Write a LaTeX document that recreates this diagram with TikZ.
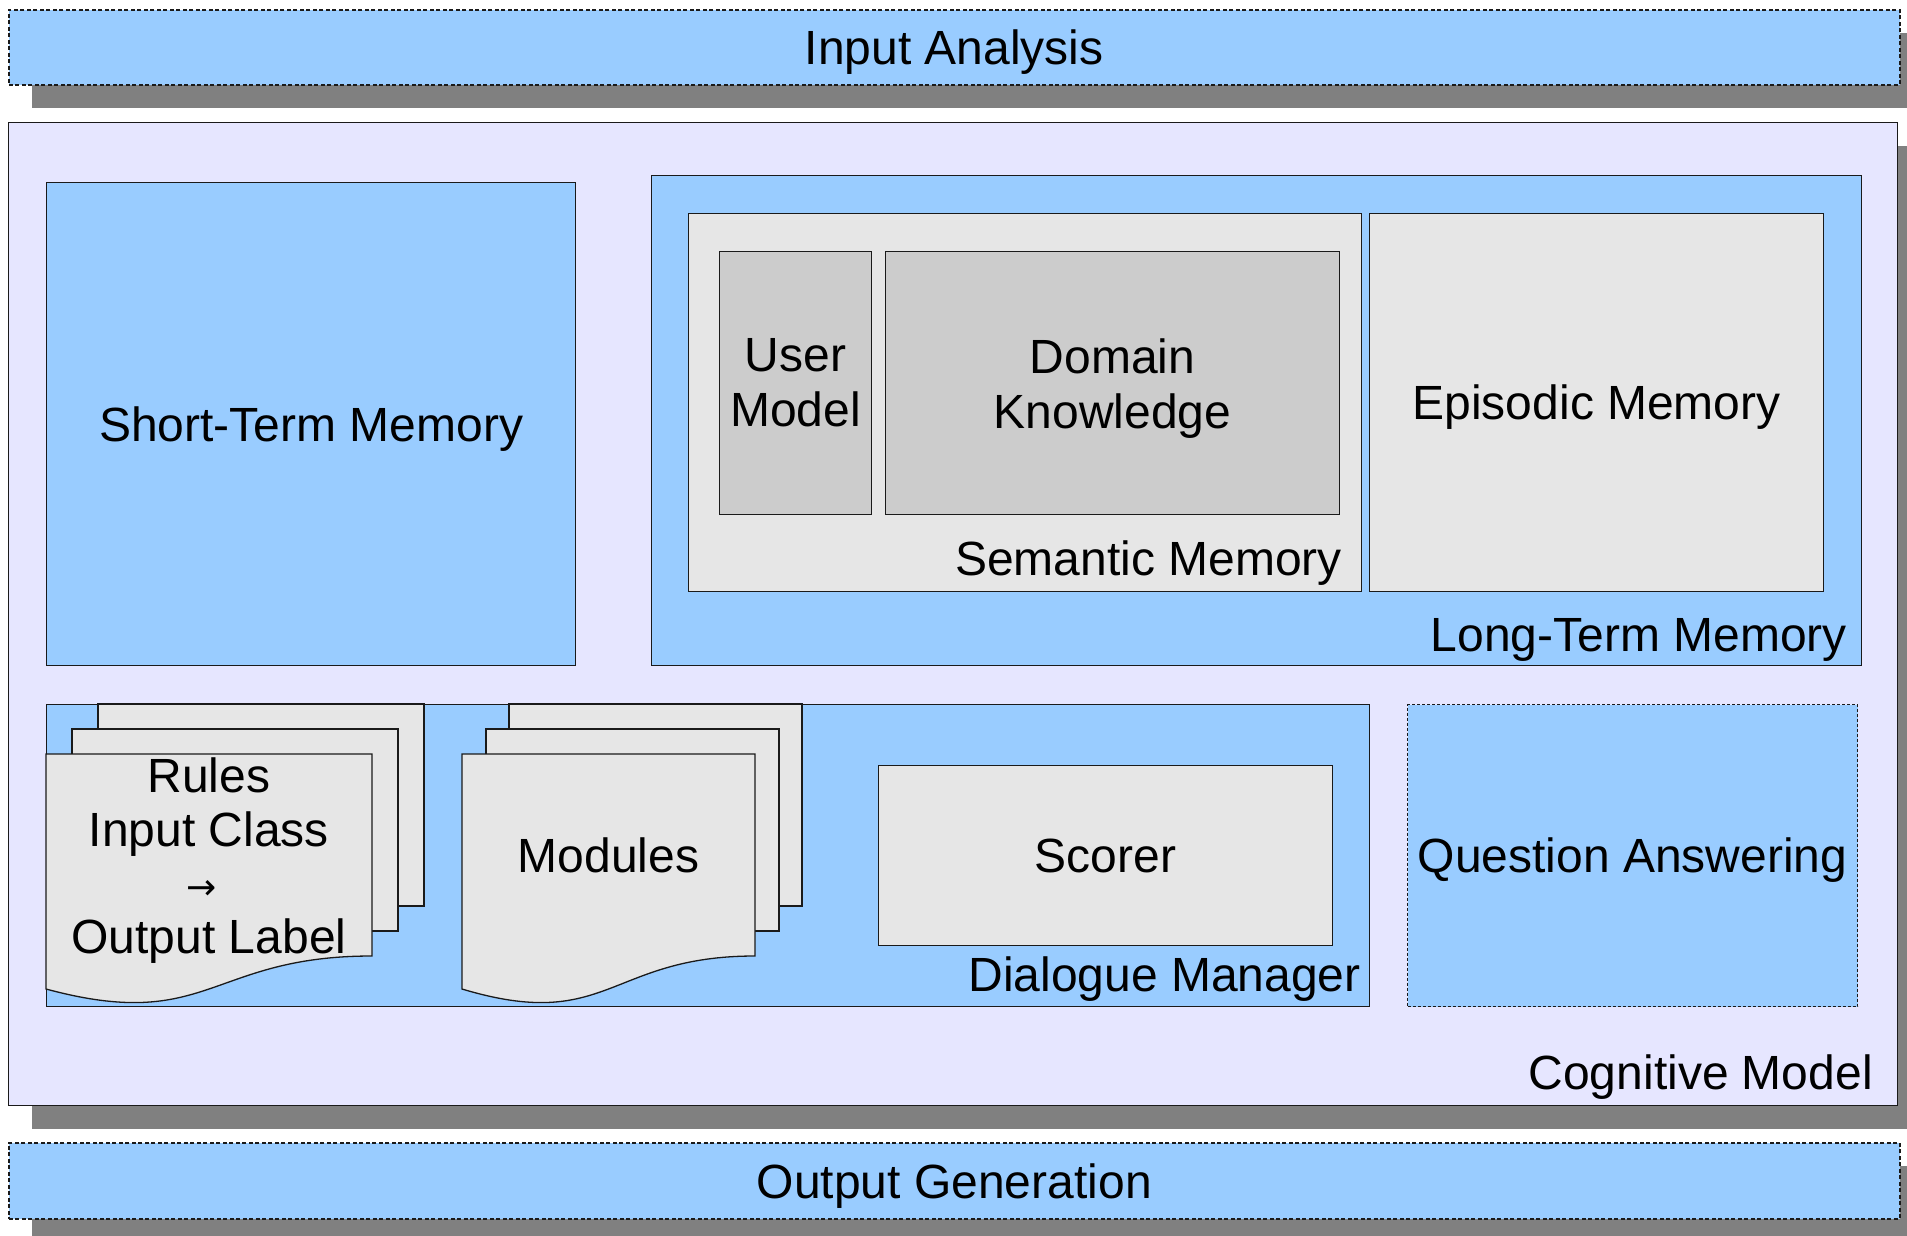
\documentclass[tikz,border=0pt]{standalone}
\usepackage{fontspec}
\setmainfont{Liberation Sans}
\newfontfamily\arrowfont{DejaVu Sans}
\usetikzlibrary{shadows}
\definecolor{barblue}{HTML}{99CCFF}
\definecolor{lav}{HTML}{E6E6FF}
\definecolor{lightg}{HTML}{E6E6E6}
\definecolor{midg}{HTML}{CCCCCC}
\definecolor{shadowc}{HTML}{808080}
\definecolor{linec}{HTML}{1A1A1A}
\begin{document}
\begin{tikzpicture}[x=1pt,y=-1pt,
  lbl/.style={font=\fontsize{48}{55}\selectfont, inner sep=0pt, text=black},
  box/.style={lbl, draw=linec, line width=1.3pt, anchor=north west},
  oneline/.style={text height=34.5pt, text depth=0pt},
  fdash/.style={line width=1.6pt, dash pattern=on 4pt off 2.5pt},
  qdash/.style={line width=1.2pt, dash pattern=on 3pt off 2pt},
  shadowed/.style={drop shadow={shadow xshift=23pt, shadow yshift=-23pt, fill=shadowc, opacity=1, draw=none}},
  doc/.style={draw=linec, line width=1.3pt, fill=lightg, line join=miter}]
\clip (0,0) rectangle (1907,1236);
\fill[white] (0,0) rectangle (1907,1236);

% top and bottom bars
\node[box, oneline, fill=barblue, fdash, shadowed, minimum width=1891pt, minimum height=75pt] (input) at (8,9) {Input Analysis};
\node[box, fill=lav, shadowed, minimum width=1889pt, minimum height=983pt] (cog) at (8,122) {};
\node[lbl, anchor=base east] (coglbl) at (1873,1089) {Cognitive Model};
\node[box, oneline, fill=barblue, fdash, shadowed, minimum width=1891pt, minimum height=76pt] (output) at (8,1142) {Output Generation};

% short-term memory
\node[box, oneline, fill=barblue, minimum width=529pt, minimum height=483pt] (stm) at (46,182) {Short-Term Memory};

% long-term memory
\node[box, fill=barblue, minimum width=1210pt, minimum height=490pt] (ltm) at (651,175) {};
\node[lbl, anchor=base east] (ltmlbl) at (1847,651) {Long-Term Memory};
\node[box, fill=lightg, minimum width=673pt, minimum height=378pt] (sem) at (688,213) {};
\node[lbl, anchor=base east] (semlbl) at (1342,575) {Semantic Memory};
\node[box, fill=midg, align=center, minimum width=152pt, minimum height=263pt] (user) at (719,251) {User\\Model};
\node[box, fill=midg, align=center, text depth=0pt, minimum width=454pt, minimum height=263pt] (domain) at (885,251) {Domain\\Knowledge};
\node[box, oneline, fill=lightg, minimum width=454pt, minimum height=378pt] (epi) at (1369,213) {Episodic Memory};

% dialogue manager
\node[box, fill=barblue, minimum width=1323pt, minimum height=302pt] (dm) at (46,704) {};
\node[lbl, anchor=base east] (dmlbl) at (1361,991) {Dialogue Manager};

% rules stack
\draw[doc] (98,704) rectangle (424,906);
\draw[doc] (72,729) rectangle (398,931);
\draw[doc] (46,754) -- (372,754) -- (372,956) .. controls (209,956) and (209,1033) .. (46,989) -- cycle;
\node[lbl, anchor=north, align=center, font=\fontsize{48}{53.5}\selectfont] (rules) at (209,757.7)
  {Rules\\Input Class\\\hspace*{-14pt}{\arrowfont\fontsize{36}{53.5}\selectfont →}\\Output Label};

% modules stack
\draw[doc] (509,704) rectangle (802,906);
\draw[doc] (486,729) rectangle (779,931);
\draw[doc] (462,754) -- (755,754) -- (755,956) .. controls (608.5,956) and (608.5,1033) .. (462,989) -- cycle;
\node[lbl, oneline] (modules) at (608.5,855) {Modules};

% scorer
\node[box, oneline, fill=lightg, minimum width=454pt, minimum height=180pt] (scorer) at (878,765) {Scorer};

% question answering
\node[box, oneline, fill=barblue, qdash, minimum width=450pt, minimum height=302pt] (qa) at (1407,704) {Question Answering};
\end{tikzpicture}
\end{document}
